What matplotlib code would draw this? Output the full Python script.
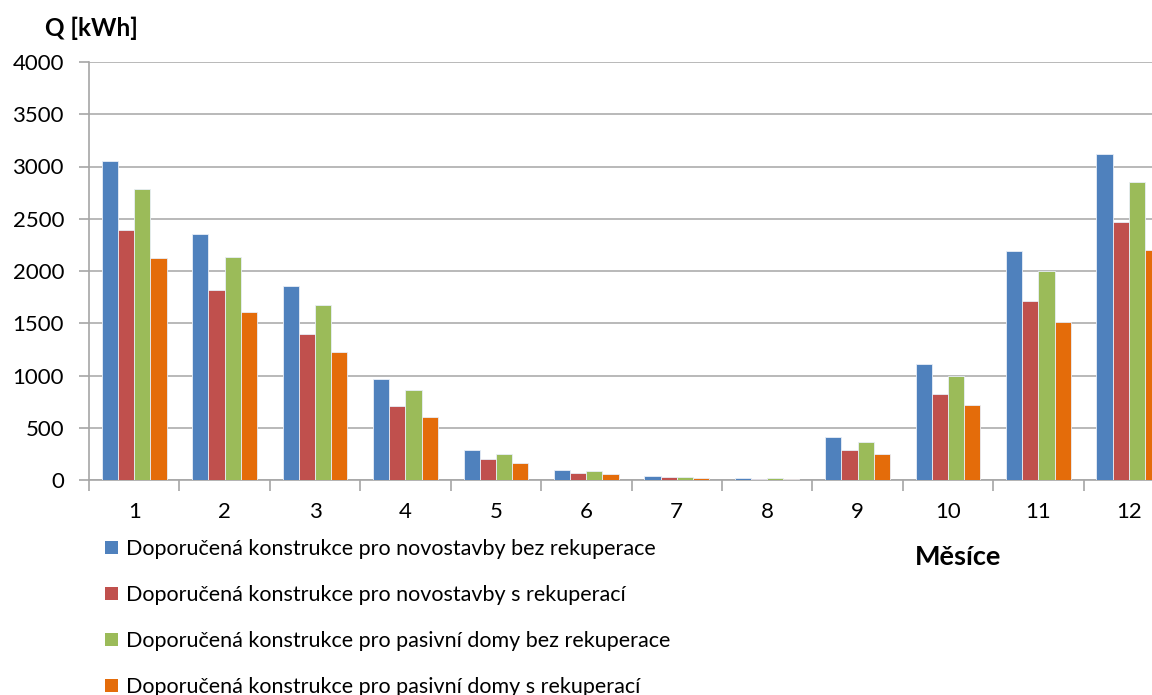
import matplotlib
matplotlib.use("Agg")
import matplotlib.pyplot as plt
from matplotlib.patches import Patch
import numpy as np

plt.rcParams['font.family'] = ['Lato', 'DejaVu Sans']

months = ["1", "2", "3", "4", "5", "6", "7", "8", "9", "10", "11", "12"]
series_names = [
    "Doporučená konstrukce pro novostavby bez rekuperace",
    "Doporučená konstrukce pro novostavby s rekuperací",
    "Doporučená konstrukce pro pasivní domy bez rekuperace",
    "Doporučená konstrukce pro pasivní domy s rekuperací",
]
novostavby_bez = [3050, 2350, 1860, 970, 288, 96, 38, 19, 416, 1112, 2196, 3115]
novostavby_s = [2390, 1821, 1400, 705, 202, 70, 25, 12, 290, 824, 1715, 2465]
pasivni_bez = [2780, 2135, 1673, 865, 250, 86, 32, 15, 368, 1000, 2000, 2850]
pasivni_s = [2125, 1610, 1228, 605, 166, 54, 22, 12, 250, 714, 1516, 2202]
colors = ["#4F81BD", "#C0504D", "#9BBB59", "#E46C0A"]

fig = plt.figure(figsize=(11.52, 6.95), dpi=100)
ax = fig.add_axes([89 / 1152, 215 / 695, 1085 / 1152, 418 / 695])

x = np.arange(len(months))
w = 0.1786
all_series = [novostavby_bez, novostavby_s, pasivni_bez, pasivni_s]
for k, (vals, c) in enumerate(zip(all_series, colors)):
    ax.bar(x + (k - 1.5) * w, vals, width=w, color=c, edgecolor="#E8EEF7",
           linewidth=0.6, zorder=3)

ax.set_xlim(-0.5, len(months) - 0.5)
ax.set_ylim(0, 4000)
ax.set_yticks(np.arange(0, 4001, 500))
ax.yaxis.grid(True, color="#B3B3B3", linewidth=1.3, zorder=0)
ax.set_axisbelow(True)

for s in ["top", "right"]:
    ax.spines[s].set_visible(False)
ax.spines["left"].set_color("#A6A6A6")
ax.spines["bottom"].set_color("#A6A6A6")
ax.spines["left"].set_linewidth(1.2)
ax.spines["bottom"].set_linewidth(1.2)

ax.set_xticks(x)
ax.set_xticklabels(months)
ax.set_xticks(np.arange(-0.5, len(months), 1.0), minor=True)
ax.tick_params(axis="x", which="major", length=0, labelsize=16, pad=16)
ax.tick_params(axis="x", which="minor", length=8, color="#A6A6A6", width=1.2)
ax.tick_params(axis="y", length=7, color="#A6A6A6", width=1.2, labelsize=16, pad=11)

fig.text(91 / 1152, 1 - 28 / 695, "Q [kWh]", fontsize=17.5, fontweight="bold",
         ha="center", va="center")
fig.text(958 / 1152, 1 - 557 / 695, "Měsíce", fontsize=19.5, fontweight="bold",
         ha="center", va="center")

handles = [Patch(facecolor=c, edgecolor="none") for c in colors]
fig.legend(handles, series_names, loc="upper left",
           bbox_to_anchor=(105 / 1152, 1 - 539 / 695), frameon=False,
           fontsize=15.5, handlelength=0.6, handleheight=0.6, handletextpad=0.37,
           labelspacing=1.21, borderaxespad=0, borderpad=0)

fig.savefig("out.png", dpi=100)
